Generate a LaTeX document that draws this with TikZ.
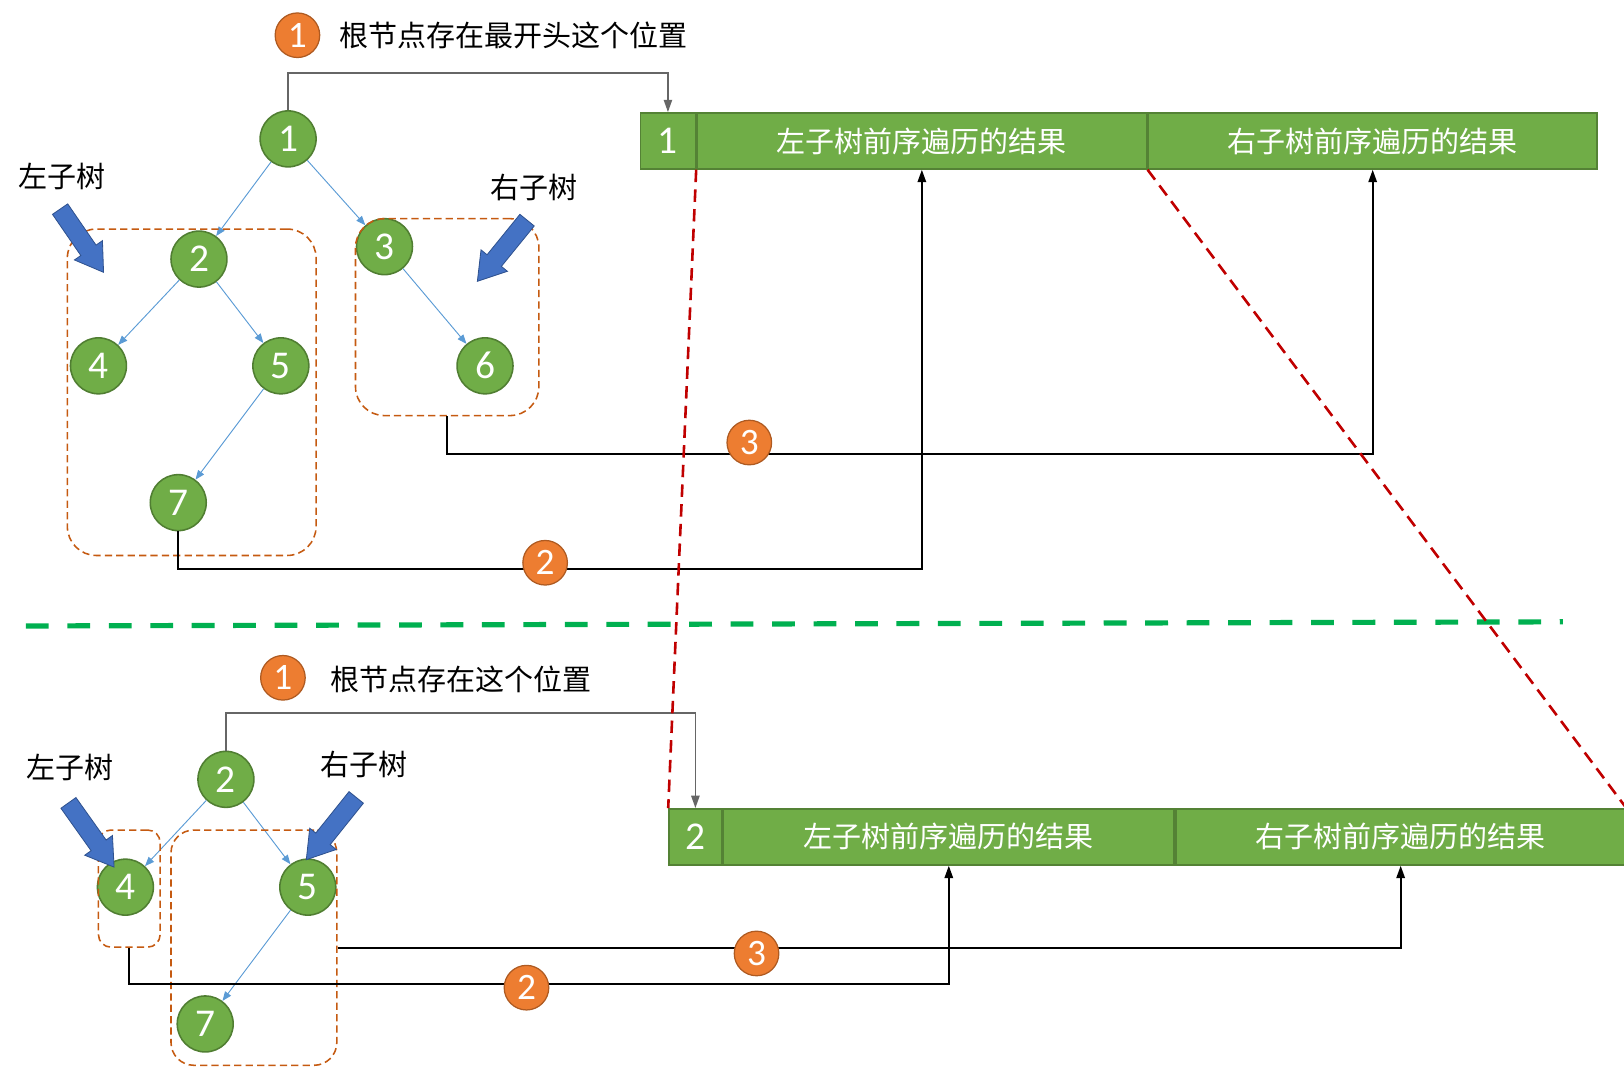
\documentclass[tikz,border=0pt]{standalone}
\usepackage{fontspec}
\setmainfont{Carlito}
\newfontfamily\cjk{Noto Sans CJK SC}
\usetikzlibrary{arrows.meta,positioning,shapes.arrows}

\begin{document}
\begin{tikzpicture}[x=1pt,y=-1pt,
	tnode/.style={circle,draw=treeborder,fill=treegreen,line width=1.5pt,minimum size=54pt,inner sep=0pt,text=white,font=\fontsize{38}{38}\selectfont},
	numcirc/.style={circle,draw=orangeborder,fill=steporange,line width=1.2pt,minimum size=43pt,inner sep=0pt,text=white,font=\fontsize{36}{36}\selectfont},
	subbox/.style={draw=subbrown,dash pattern=on 7pt off 4pt,line width=1.5pt,rounded corners=28pt,inner sep=0pt},
	cell/.style={draw=cellborder,fill=treegreen,line width=1.5pt,minimum height=54pt,inner sep=0pt,text=white,font=\cjk\fontsize{28}{28}\selectfont},
	tedge/.style={draw=edgeblue,line width=0.9pt,-{Triangle[length=9pt,width=7pt]}},
	link/.style={line width=2pt,-{Triangle[length=12pt,width=8pt]}},
	barrow/.style={single arrow,draw=arrowborder,fill=arrowblue,line width=0.8pt,inner xsep=0pt,inner ysep=8.5pt,single arrow head extend=7.5pt,single arrow tip angle=65},
	cntext/.style={font=\cjk\fontsize{28}{28}\selectfont}
]
	\definecolor{treegreen}{RGB}{112,173,71}
	\definecolor{treeborder}{RGB}{80,126,50}
	\definecolor{cellborder}{RGB}{84,130,53}
	\definecolor{steporange}{RGB}{237,125,49}
	\definecolor{orangeborder}{RGB}{174,90,33}
	\definecolor{subbrown}{RGB}{197,90,17}
	\definecolor{edgeblue}{RGB}{91,155,213}
	\definecolor{arrowblue}{RGB}{68,114,196}
	\definecolor{arrowborder}{RGB}{47,82,143}
	\definecolor{sepgreen}{RGB}{0,176,80}
	\definecolor{darkred}{RGB}{192,0,0}

	\useasboundingbox (0,0) rectangle (1567,1030);

	% upper half: whole tree
	\node[numcirc] (s1) at (287,34) {1};
	\node[cntext,anchor=west] (t1text) at (324,34) {根节点存在最开头这个位置};

	\node[tnode] (t1) at (278,134) {1};
	\node[tnode] (t2) at (192,250) {2};
	\node[tnode] (t3) at (371,238) {3};
	\node[tnode] (t4) at (95,353) {4};
	\node[tnode] (t5) at (271,353) {5};
	\node[tnode] (t6) at (468,353) {6};
	\node[tnode] (t7) at (172,485) {7};

	\draw[tedge] (t1) -- (t2);
	\draw[tedge] (t1) -- (t3);
	\draw[tedge] (t2) -- (t4);
	\draw[tedge] (t2) -- (t5);
	\draw[tedge] (t5) -- (t7);
	\draw[tedge] (t3) -- (t6);

	\node[subbox,minimum width=240pt,minimum height=315pt] (lsub) at (185,378.5) {};
	\node[subbox,minimum width=177pt,minimum height=190pt] (rsub) at (431.5,306) {};

	\node[cntext] (lname) at (60,170) {左子树};
	\node[cntext] (rname) at (515,181) {右子树};
	\node[barrow,minimum height=74pt,rotate=-55.5] (larrow) at (75,226.5) {};
	\node[barrow,minimum height=76pt,rotate=-129.1] (rarrow) at (489,236.5) {};

	\node[cell,minimum width=53pt,font=\fontsize{38}{38}\selectfont] (ra) at (644.5,136) {1};
	\node[cell,minimum width=434pt,right=0pt of ra] (rl) {左子树前序遍历的结果};
	\node[cell,minimum width=433pt,right=0pt of rl] (rr) {右子树前序遍历的结果};

	\draw[link,black!60,line width=1.6pt] (t1.north) -- ++(0,-36) -| (ra.north);
	\draw[link] (t7.south) -- ++(0,36) -| (rl.south);
	\draw[link] (rsub.south) -- ++(0,36) -| (rr.south);
	\node[numcirc] (s2) at (526,543) {2};
	\node[numcirc] (s3) at (723,427) {3};

	% separator
	\draw[sepgreen,line width=5pt,dash pattern=on 22pt off 18pt] (25,604) -- (1508,600);

	% lower half: left subtree of 1
	\node[numcirc] (u1) at (273,654) {1};
	\node[cntext,anchor=west] (u1text) at (315,656) {根节点存在这个位置};

	\node[tnode] (b2) at (218,752) {2};
	\node[tnode] (b4) at (121,856) {4};
	\node[tnode] (b5) at (297,856) {5};
	\node[tnode] (b7) at (198,988) {7};

	\draw[tedge] (b2) -- (b4);
	\draw[tedge] (b2) -- (b5);
	\draw[tedge] (b5) -- (b7);

	\node[subbox,rounded corners=12pt,minimum width=59.5pt,minimum height=113pt] (blsub) at (124.75,857.4) {};
	\node[subbox,rounded corners=22pt,minimum width=160pt,minimum height=227pt] (brsub) at (245,914.4) {};

	\node[cntext] (blname) at (68,741) {左子树};
	\node[cntext] (brname) at (351,738) {右子树};
	\node[barrow,minimum height=76pt,rotate=-54.6] (blarrow) at (84,800) {};
	\node[barrow,minimum height=77pt,rotate=-128.7] (brarrow) at (324,794) {};

	\node[cell,minimum width=51pt,font=\fontsize{38}{38}\selectfont] (ba) at (671,807.5) {2};
	\node[cell,minimum width=435pt,right=0pt of ba] (bl) {左子树前序遍历的结果};
	\node[cell,minimum width=434pt,right=0pt of bl] (br) {右子树前序遍历的结果};

	\draw[link,black!60,line width=1.6pt] (b2.north) -- ++(0,-36) -| (ba.north);
	\draw[link] (blsub.south) -- ++(0,35) -| (bl.south);
	\draw[link] (brsub.east) -| (br.south);
	\node[numcirc] (u2) at (508,953) {2};
	\node[numcirc] (u3) at (730,920) {3};

	% zoom lines
	\draw[darkred,line width=2.5pt,dash pattern=on 12pt off 7pt] (rl.south west) -- (ba.north west);
	\draw[darkred,line width=2.5pt,dash pattern=on 12pt off 7pt] (rr.south west) -- (br.north east);
\end{tikzpicture}
\end{document}
